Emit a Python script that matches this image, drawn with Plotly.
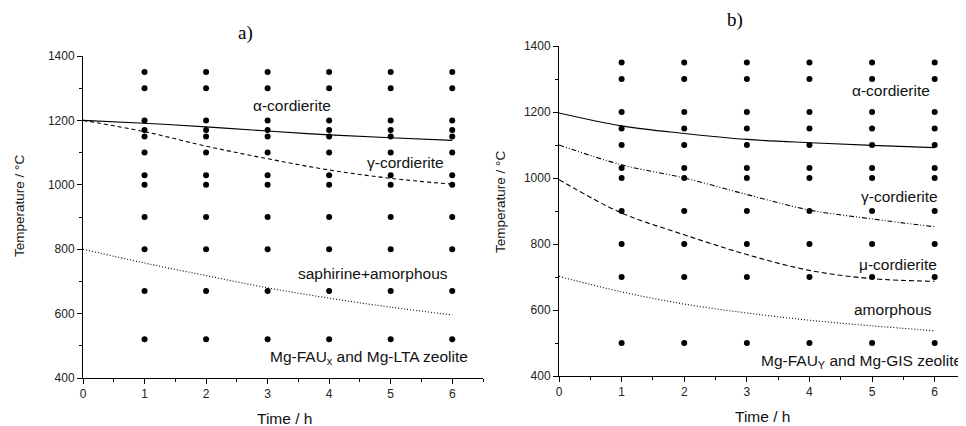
import plotly.graph_objects as go

# ---------------- data ----------------
times = [1, 2, 3, 4, 5, 6]
temps_a = [1350, 1300, 1200, 1170, 1150, 1100, 1030, 1000, 900, 800, 670, 520]
temps_b = [1350, 1300, 1200, 1150, 1100, 1030, 1000, 900, 800, 700, 500]

curve_t = [0, 1, 2, 3, 4, 5, 6]
a_alpha = [1200, 1191, 1180, 1167, 1155, 1146, 1138]
a_gamma = [1200, 1165, 1120, 1081, 1046, 1020, 1002]
a_saph = [800, 757, 718, 680, 648, 620, 596]

b_alpha = [1197, 1158, 1135, 1117, 1107, 1099, 1092]
b_gamma = [1100, 1040, 1000, 950, 903, 876, 852]
b_mu = [995, 894, 828, 768, 720, 695, 687]
b_amor = [702, 655, 618, 591, 569, 552, 537]

labels_a = [("α-cordierite", 3.4, 1245), ("γ-cordierite", 5.24, 1068),
            ("saphirine+amorphous", 4.72, 723),
            ("Mg-FAU<sub>x</sub> and Mg-LTA zeolite", 4.64, 465)]
labels_b = [("α-cordierite", 5.31, 1265), ("γ-cordierite", 5.44, 943),
            ("μ-cordierite", 5.41, 739), ("amorphous", 5.33, 601),
            ("Mg-FAU<sub>Y</sub> and Mg-GIS zeolite", 4.83, 444)]

# page has an 8px body margin: figure is placed at (8, 8) in the window
OFF = 8
W, H = 966 - OFF, 426 - OFF

def px(x):
    return (x - OFF) / W

def py(y):
    return 1 - (y - OFF) / H

fig = go.Figure()

def grid(xs, ys, xa, ya):
    gx, gy = [], []
    for t in xs:
        for v in ys:
            gx.append(t)
            gy.append(v)
    fig.add_trace(go.Scatter(x=gx, y=gy, mode="markers", xaxis=xa, yaxis=ya,
                             marker=dict(color="black", size=6), showlegend=False,
                             hoverinfo="skip", cliponaxis=False))

def curve(ys, dash, xa, ya):
    fig.add_trace(go.Scatter(x=curve_t, y=ys, mode="lines", xaxis=xa, yaxis=ya,
                             line=dict(color="black", width=1.1, dash=dash, shape="spline"),
                             showlegend=False, hoverinfo="skip"))

grid(times, temps_a, "x", "y")
curve(a_alpha, "solid", "x", "y")
curve(a_gamma, "4px,3px", "x", "y")
curve(a_saph, "1px,2px", "x", "y")

grid(times, temps_b, "x2", "y2")
curve(b_alpha, "solid", "x2", "y2")
curve(b_gamma, "5px,2px,1px,2px,1px,2px", "x2", "y2")
curve(b_mu, "5px,3px", "x2", "y2")
curve(b_amor, "1px,2px", "x2", "y2")

tickfont = dict(family="Liberation Sans, Arial, sans-serif", size=12, color="#222")
common_x = dict(range=[0, 6.5], dtick=1, tick0=0, showgrid=False, zeroline=False,
                automargin=False,
                showline=True, linecolor="black", linewidth=1, ticks="outside",
                ticklen=5, tickcolor="black", tickfont=tickfont,
                minor=dict(dtick=0.5, ticks="outside", ticklen=3, tickcolor="black"))
common_y = dict(range=[400, 1400], dtick=200, tick0=400, showgrid=False, zeroline=False,
                automargin=False,
                showline=True, linecolor="black", linewidth=1, ticks="outside",
                ticklen=5, tickcolor="black", tickfont=tickfont,
                minor=dict(dtick=100, ticks="outside", ticklen=3, tickcolor="black"))

fig.update_layout(
    width=W, height=H, margin=dict(l=0, r=0, t=0, b=0, autoexpand=False),
    paper_bgcolor="white", plot_bgcolor="white",
    xaxis=dict(domain=[px(83), px(483)], anchor="y", **common_x),
    yaxis=dict(domain=[py(378), py(56)], anchor="x", **common_y),
    xaxis2=dict(domain=[px(559), 1.0], anchor="y2", **common_x),
    yaxis2=dict(domain=[py(376), py(46)], anchor="x2", **common_y),
)

lab_font = dict(family="Liberation Sans, Arial, sans-serif", size=15.5, color="#111")
anns = []
for txt, x, y in labels_a:
    anns.append(dict(text=txt, x=x, y=y, xref="x", yref="y", showarrow=False, font=lab_font,
                     xanchor="center", yanchor="middle"))
for txt, x, y in labels_b:
    anns.append(dict(text=txt, x=x, y=y, xref="x2", yref="y2", showarrow=False, font=lab_font,
                     xanchor="center", yanchor="middle"))

def paper_note(text, x, y, font, angle=0):
    anns.append(dict(text=text, x=px(x), y=py(y), xref="paper", yref="paper",
                     xanchor="center", yanchor="middle", textangle=angle,
                     showarrow=False, font=font))

ttl_font = dict(family="Liberation Serif, Times New Roman, serif", size=19, color="black")
paper_note("a)", 245, 33, ttl_font)
paper_note("b)", 735, 20, ttl_font)

ax_font_y = dict(family="Liberation Sans, Arial, sans-serif", size=13.5, color="#111")
ax_font_x = dict(family="Liberation Sans, Arial, sans-serif", size=15.5, color="#111")
paper_note("Temperature / °C", 20, 206, ax_font_y, -90)
paper_note("Temperature / °C", 500, 202, ax_font_y, -90)
paper_note("Time / h", 284, 418, ax_font_x)
paper_note("Time / h", 762, 416, ax_font_x)
fig.update_layout(annotations=anns)

fig.write_html("out.html")
